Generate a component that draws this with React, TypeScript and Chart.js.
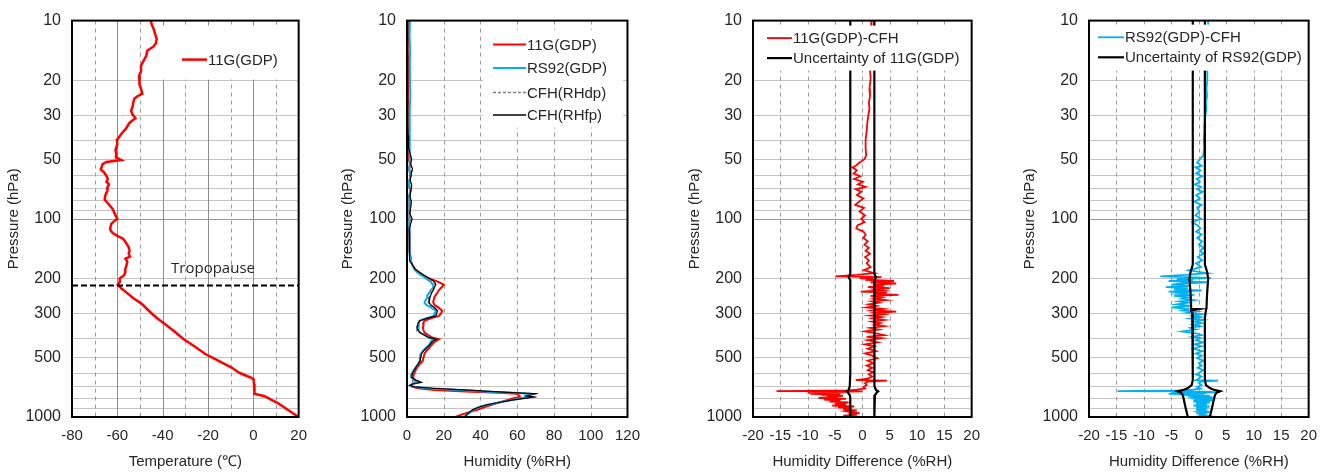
import React, { useEffect, useRef } from "react";
import { Chart, registerables } from "chart.js";
Chart.register(...registerables);

const FONT = "'Liberation Sans', Arial, Helvetica, sans-serif";
const TEXT = "#262626";

// ---------- axes ----------
const pressureTicks = [10, 20, 30, 40, 50, 60, 70, 80, 90, 100, 200, 300, 400, 500, 600, 700, 800, 900, 1000];
const pressureLabels = [10, 20, 30, 50, 100, 200, 300, 500, 1000];
const pressureGrid = [20, 30, 40, 50, 60, 70, 80, 90, 100, 200, 300, 400, 500, 600, 700, 800, 900];
const tempTicks = [-80, -60, -40, -20, 0, 20];
const tempSolidGrid = [-60, -40, -20, 0];
const tempDashedGrid = [-70, -50, -30, -10, 10];
const humidityTicks = [0, 20, 40, 60, 80, 100, 120];
const humidityDashedGrid = [20, 40, 60, 80, 100];
const diffTicks = [-20, -15, -10, -5, 0, 5, 10, 15, 20];
const diffDashedGrid = [-15, -10, -5, 0, 5, 10, 15];

// ---------- panel 1: temperature ----------
const tempPressure = [
  10, 10.5, 11, 11.5, 12, 12.4, 13, 13.5, 14, 14.2,
  15, 16, 17, 18, 19, 20, 21, 22, 23.4, 24,
  24.8, 26, 27, 28.4, 29.5, 31.1, 32, 33, 35, 37,
  40, 42, 45, 47, 49, 50.5, 51.7, 53, 56.5, 58,
  60.8, 63, 65, 67, 70, 72, 75.5, 80, 84, 89.5,
  95, 100, 103, 106, 110, 114, 118, 122, 126, 131,
  139, 145, 150, 155, 158.8, 165, 174, 180, 186, 192,
  200, 207, 215, 224, 235, 250, 270, 303, 320, 342,
  370, 405, 440, 481, 520, 563, 600, 630, 643, 660,
  682, 720, 763, 785, 820, 850, 900, 950, 1000,
];
const tempValues = [
  -45.2, -44.8, -44.0, -43.5, -43.0, -42.6, -43.0, -44.0, -46.0, -46.8,
  -47.2, -48.5, -49.6, -49.5, -50.4, -50.3, -50.1, -49.6, -49.0, -51.0,
  -52.5, -53.0, -53.2, -53.9, -53.5, -52.0, -53.5, -54.8, -56.1, -58.0,
  -60.2, -60.0, -60.8, -60.5, -60.6, -58.3, -64.8, -66.5, -67.3, -66.0,
  -64.8, -64.2, -64.8, -63.7, -64.5, -64.3, -65.2, -65.6, -64.0, -62.0,
  -61.0, -60.0, -61.5, -62.7, -63.0, -63.1, -62.0, -60.0, -57.5, -56.4,
  -55.0, -54.6, -55.0, -54.4, -56.4, -55.6, -56.1, -56.5, -56.5, -56.9,
  -59.0, -58.8, -59.8, -58.3, -56.0, -53.2, -49.0, -44.5, -42.0, -38.6,
  -34.8, -30.7, -26.0, -21.2, -15.5, -9.6, -6.0, -1.5, 0.0, 0.2,
  0.3, 0.4, 0.6, 5.0, 8.0, 10.8, 14.0, 17.0, 20.0,
];
const tropopausePressure = 217;
const tropopauseLabel = "Tropopause";

// ---------- panel 2: humidity ----------
const rhPressure = [
  10, 12, 14, 17, 20, 24, 28, 33, 38, 44,
  50, 53, 56, 60, 64, 68, 72, 77, 82, 88,
  94, 100, 106, 113, 120, 128, 137, 146, 155, 163,
  171, 180, 186, 192, 197, 202, 208, 215, 221, 229,
  236, 242, 250, 258, 265, 272, 280, 291, 300, 309,
  318, 327, 336, 345, 354, 365, 375, 386, 398, 405,
  415, 427, 437, 450, 465, 481, 500, 520, 540, 563,
  585, 608, 630, 650, 668, 680, 692, 704, 716, 730,
  745, 755, 763, 772, 782, 793, 805, 822, 845, 870,
  893, 917, 945, 970, 1000,
];
const rh11G = [
  0.5, 0.6, 0.4, 0.7, 0.5, 0.6, 0.5, 0.7, 0.6, 0.8,
  1.0, 1.8, 1.2, 2.0, 1.4, 1.0, 1.9, 1.3, 1.2, 1.6,
  1.1, 1.5, 1.3, 1.0, 1.2, 1.4, 1.1, 1.5, 1.8, 2.2,
  3.0, 4.5, 6.5, 8.6, 10.5, 13.5, 17.0, 20.0, 19.0, 17.4,
  16.5, 15.7, 14.8, 14.5, 14.3, 15.0, 17.0, 19.2, 18.5, 17.4,
  13.0, 9.5, 8.8, 9.0, 8.6, 9.0, 9.5, 11.5, 13.9, 17.4,
  15.5, 14.0, 13.0, 12.0, 10.5, 9.5, 9.0, 8.6, 7.0, 5.5,
  4.5, 3.8, 3.3, 4.2, 5.1, 3.0, 2.0, 3.0, 6.0, 15.0,
  35.0, 50.0, 59.7, 60.5, 61.0, 61.5, 58.0, 54.4, 50.0, 45.6,
  42.0, 38.6, 34.0, 30.0, 26.3,
];
const rhRS92 = [
  1.6, 1.4, 1.7, 1.5, 1.6, 1.8, 1.5, 1.6, 1.4, 1.5,
  1.2, 1.6, 1.0, 1.8, 1.3, 1.1, 1.7, 1.2, 1.5, 1.1,
  1.6, 1.3, 1.0, 1.4, 1.2, 1.5, 1.3, 1.6, 1.9, 2.1,
  2.8, 4.0, 5.5, 7.5, 9.5, 11.0, 13.0, 14.0, 14.5, 13.0,
  12.0, 11.3, 11.0, 10.0, 9.5, 10.5, 13.0, 15.7, 15.0, 14.5,
  10.0, 6.9, 6.5, 6.3, 6.0, 6.5, 7.2, 9.5, 12.0, 14.5,
  13.0, 12.5, 11.5, 10.0, 8.5, 7.5, 7.2, 7.0, 6.0, 4.6,
  3.5, 2.5, 2.2, 3.5, 6.0, 3.0, 1.6, 3.0, 12.0, 28.0,
  43.9, 58.0, 66.0, 66.5, 65.0, 66.8, 62.0, 57.0, 50.0, 43.0,
  39.0, 36.0, 34.5, 33.0, 31.6,
];
const rhCFHdp = [
  0.3, 0.2, 0.3, 0.3, 0.2, 0.3, 0.3, 0.4, 0.5, 0.8,
  2.2, 1.8, 2.7, 2.0, 1.6, 2.3, 1.9, 1.5, 2.1, 1.8,
  1.4, 2.5, 1.8, 1.2, 1.4, 1.1, 1.3, 1.2, 1.3, 1.4,
  2.8, 4.2, 6.3, 8.5, 10.4, 12.4, 14.3, 15.0, 14.4, 13.7,
  13.0, 12.5, 12.0, 11.6, 11.6, 12.6, 14.5, 16.1, 15.8, 15.3,
  10.8, 6.8, 5.9, 5.7, 5.4, 5.9, 6.8, 9.4, 11.9, 15.9,
  13.9, 12.7, 11.9, 10.4, 8.9, 7.7, 7.4, 7.1, 6.0, 4.8,
  3.6, 2.8, 2.5, 4.5, 7.8, 3.5, 1.6, 4.0, 14.0, 31.0,
  47.4, 60.0, 71.0, 68.5, 65.5, 70.5, 64.5, 57.0, 50.0, 43.0,
  39.0, 36.0, 34.0, 32.5, 31.0,
];
const rhCFHfp = [
  0.3, 0.2, 0.4, 0.3, 0.2, 0.4, 0.3, 0.5, 0.6, 0.9,
  2.5, 2.0, 3.0, 2.2, 1.8, 2.6, 2.1, 1.6, 2.4, 2.0,
  1.5, 2.8, 2.0, 1.3, 1.6, 1.2, 1.5, 1.3, 1.4, 1.5,
  3.0, 4.5, 6.8, 9.0, 11.0, 13.0, 15.0, 15.7, 15.0, 14.3,
  13.5, 13.0, 12.5, 12.0, 12.0, 13.0, 15.0, 16.6, 16.2, 15.7,
  11.0, 6.9, 6.0, 5.8, 5.5, 6.0, 6.9, 9.5, 12.0, 16.0,
  14.0, 12.8, 12.0, 10.5, 9.0, 7.8, 7.5, 7.2, 6.0, 4.8,
  3.6, 2.8, 2.5, 4.5, 7.8, 3.5, 1.6, 4.0, 14.0, 31.0,
  47.4, 60.0, 70.0, 68.0, 65.0, 69.0, 64.0, 57.0, 50.0, 43.0,
  39.0, 36.0, 34.0, 32.5, 31.0,
];

// ---------- panels 3 & 4: differences ----------
const diffPressure = [
  10, 11, 12, 13, 14, 15, 16, 17, 18, 19,
  20, 22, 24, 26, 28, 30, 33, 36, 40, 44,
  48, 50, 52, 54, 55, 57, 59, 61, 63, 65,
  67, 69, 71, 73, 76, 79, 82, 85, 88, 92,
  96, 100, 104, 108, 112, 116, 120, 125, 130, 135,
  140, 145, 150, 156, 162, 168, 175, 182, 188, 192,
  195, 197, 199, 201, 203, 206, 209, 212, 215, 218,
  221, 224, 227, 230, 233, 236, 239, 242, 245, 249,
  253, 257, 261, 265, 270, 275, 280, 285, 290, 294,
  298, 303, 308, 313, 318, 324, 330, 336, 342, 348,
  355, 362, 370, 378, 386, 394, 400, 410, 420, 430,
  440, 452, 465, 478, 490, 505, 520, 535, 550, 565,
  580, 595, 610, 625, 640, 652, 656, 662, 675, 690,
  705, 718, 728, 735, 740, 743, 746, 749, 752, 756,
  760, 765, 770, 776, 782, 788, 795, 802, 810, 818,
  826, 835, 845, 855, 865, 875, 885, 895, 905, 915,
  925, 935, 945, 955, 965, 975, 985, 995, 1000,
];
const diff11G = [
  1.7, 1.6, 1.7, 1.6, 1.6, 1.5, 1.6, 1.5, 1.4, 1.5,
  1.5, 1.3, 1.4, 1.2, 1.3, 1.1, 0.9, 0.8, 0.6, 0.6,
  0.7, 0.4, -0.5, -1.2, -1.8, -1.0, -1.6, -0.4, -1.5, 0.1,
  -0.8, 0.6, -1.2, -0.2, -1.0, 0.2, -0.6, -1.3, 0.3, -0.5,
  0.5, -0.2, 0.4, -0.9, -1.1, 0.2, 0.6, 0.2, 1.0, 0.4,
  1.2, 0.6, 1.4, 0.5, 1.2, 0.8, 1.5, 0.3, 2.2, -1.0,
  -4.9, 3.5, -0.5, 2.0, 0.5, 5.8, 1.5, 6.2, 2.0, 4.0,
  1.0, 5.0, 2.5, 3.8, -0.3, 4.5, 2.0, 6.6, 1.5, 3.5,
  2.2, 4.3, 1.8, 3.0, 1.2, 2.6, 0.8, 3.8, 2.0, 6.2,
  2.5, 4.0, 1.5, 3.5, 2.0, 4.0, 1.8, 3.3, 2.3, 4.0,
  1.5, 3.0, 0.5, 2.5, 4.0, 0.8, 3.5, 1.0, 2.8, 0.5,
  2.2, 1.0, 2.5, 0.5, 1.8, 2.7, 1.0, 2.0, 0.8, 1.8,
  1.0, 2.0, 1.2, 1.8, 1.0, -1.2, 4.5, 1.0, 0.5, 0.8,
  0.2, 0.5, -1.0, -2.5, -15.7, 0.0, -4.5, -8.0, -3.0, -10.0,
  -6.0, -9.5, -4.0, -7.5, -3.5, -6.5, -4.5, -8.0, -3.0, -7.0,
  -4.0, -6.0, -2.5, -5.0, -3.0, -5.5, -1.5, -4.5, -2.0, -3.5,
  -1.0, -3.0, -2.0, -0.5, -2.5, -1.0, -3.5, -1.5, -2.0,
];
const diffRS92 = [
  1.7, 1.7, 1.6, 1.7, 1.6, 1.6, 1.5, 1.6, 1.5, 1.5,
  1.5, 1.4, 1.5, 1.3, 1.4, 1.2, 1.1, 1.0, 0.9, 1.0,
  0.8, 0.2, -0.3, 0.5, -0.6, 0.3, -0.5, 0.6, -0.4, 0.2,
  -0.7, 0.4, -0.3, 0.7, -0.5, 0.2, -0.8, 0.5, -0.3, 0.1,
  -0.6, 0.4, -1.2, -0.2, 0.3, -0.5, 0.5, -0.3, 0.6, 0.0,
  0.9, 0.2, 0.8, -0.2, 0.6, -0.5, 0.4, -1.8, 1.5, -2.5,
  -7.0, -2.0, 2.2, -4.0, -1.0, -5.5, 1.5, -3.0, -5.0, -1.5,
  -6.0, -2.0, -4.5, 0.5, -5.5, -2.5, -3.8, -0.8, -4.5, -2.0,
  -3.0, -1.0, -3.5, -2.0, -4.0, -1.5, -5.0, -2.0, -3.0, -0.5,
  -2.0, 0.5, -1.0, 0.3, -1.5, 0.8, -0.8, 0.5, -1.0, 0.2,
  -1.5, -0.5, -3.0, -0.5, 0.5, -1.2, 0.3, -0.5, 0.8, -0.8,
  0.5, -1.0, 0.6, -0.5, 0.5, -0.3, 0.8, 0.0, 0.5, -0.2,
  0.8, 0.2, -0.5, 0.5, 0.0, -0.5, 3.5, 0.5, 0.0, 0.5,
  -0.3, 0.3, -1.0, -3.0, -14.8, -2.0, 2.5, -5.0, 3.5, -3.0,
  1.5, -5.5, 1.0, -3.0, 2.0, -2.0, 2.5, -1.5, 3.0, -1.0,
  2.5, -1.0, 2.0, -0.5, 1.5, -1.0, 2.0, -0.5, 1.5, -0.5,
  1.0, 0.0, 2.0, -0.5, 1.0, 0.5, 1.5, -0.5, 0.5,
];

const unc11GPressure = [10, 50, 100, 150, 190, 197, 204, 250, 300, 400, 500, 600, 700, 730, 742, 755, 775, 800, 900, 1000];
const unc11GUpper = [2.2, 2.2, 2.2, 2.2, 2.2, 2.5, 2.2, 2.2, 2.2, 2.2, 2.2, 2.2, 2.3, 2.5, 2.9, 2.6, 2.3, 2.2, 2.2, 2.2];
const unc11GLower = [-2.2, -2.2, -2.2, -2.2, -2.2, -2.5, -2.2, -2.2, -2.2, -2.2, -2.2, -2.2, -2.3, -2.5, -2.9, -2.6, -2.3, -2.2, -2.2, -2.2];

const uncRSLowerPressure = [10, 100, 170, 185, 200, 240, 280, 285, 286, 290, 300, 320, 400, 500, 600, 650, 690, 715, 730, 742, 755, 770, 800, 850, 900, 950, 1000];
const uncRSLower = [-1.1, -1.1, -1.1, -1.5, -1.7, -1.5, -1.4, -1.4, -0.1, -1.4, -1.2, -1.1, -1.1, -1.1, -1.1, -1.1, -1.3, -2.0, -2.8, -3.9, -3.2, -3.0, -2.8, -2.6, -2.4, -2.2, -2.0];
const uncRSUpperPressure = [10, 100, 170, 185, 200, 240, 280, 300, 320, 400, 500, 600, 650, 690, 715, 730, 742, 755, 770, 800, 850, 900, 950, 1000];
const uncRSUpper = [1.1, 1.1, 1.1, 1.5, 1.7, 1.5, 1.4, 1.2, 1.1, 1.1, 1.1, 1.1, 1.1, 1.3, 2.0, 2.8, 3.9, 3.2, 3.0, 2.8, 2.6, 2.4, 2.2, 2.0];

// ---------- helpers ----------
const xy = (xs: number[], ps: number[]) => ps.map((p, i) => ({ x: xs[i], y: p }));

const line = (label: string, data: any[], color: string, width: number, order: number, dash: number[] = []) => ({
  label,
  data,
  borderColor: color,
  backgroundColor: color,
  borderWidth: width,
  borderDash: dash,
  showLine: true,
  pointRadius: 0,
  pointHoverRadius: 0,
  tension: 0,
  fill: false,
  order,
});

type LegendSpec = { box: number[]; lineX: number[]; textX: number; rows: number[]; items: number[] };
type PanelSpec = {
  left: number;
  width: number;
  axisWidth: number;
  xMin: number;
  xMax: number;
  xTicks: number[];
  xTitle: string;
  vSolid: number[];
  vDashed: number[];
  datasets: any[];
  legend: LegendSpec;
  tropopause?: boolean;
};

function makeDecor(spec: PanelSpec) {
  return {
    id: "decor",
    beforeDatasetsDraw(chart: any) {
      const { ctx, chartArea: a } = chart;
      const xs = chart.scales.x;
      const ys = chart.scales.y;
      ctx.save();
      ctx.lineWidth = 1;
      pressureGrid.forEach((p) => {
        const py = Math.round(ys.getPixelForValue(p)) + 0.5;
        ctx.beginPath();
        ctx.setLineDash([]);
        ctx.strokeStyle = p === 100 ? "#9a9a9a" : "#c4c4c4";
        ctx.moveTo(a.left, py);
        ctx.lineTo(a.right, py);
        ctx.stroke();
      });
      spec.vSolid.forEach((v) => {
        const px = Math.round(xs.getPixelForValue(v)) + 0.5;
        ctx.beginPath();
        ctx.setLineDash([]);
        ctx.strokeStyle = "#8c8c8c";
        ctx.moveTo(px, a.top);
        ctx.lineTo(px, a.bottom);
        ctx.stroke();
      });
      spec.vDashed.forEach((v) => {
        const px = Math.round(xs.getPixelForValue(v)) + 0.5;
        ctx.beginPath();
        ctx.setLineDash([4, 4]);
        ctx.strokeStyle = "#9a9a9a";
        ctx.moveTo(px, a.top);
        ctx.lineTo(px, a.bottom);
        ctx.stroke();
      });
      ctx.restore();
    },
    afterDatasetsDraw(chart: any) {
      const { ctx, chartArea: a } = chart;
      const xs = chart.scales.x;
      const ys = chart.scales.y;
      ctx.save();
      if (spec.tropopause) {
        const py = Math.round(ys.getPixelForValue(tropopausePressure)) + 0.5;
        ctx.beginPath();
        ctx.setLineDash([6, 3]);
        ctx.strokeStyle = "#000";
        ctx.lineWidth = 2;
        ctx.moveTo(a.left, py);
        ctx.lineTo(a.right, py);
        ctx.stroke();
        ctx.setLineDash([]);
        ctx.fillStyle = TEXT;
        ctx.font = "15px 'Open Sans', 'Liberation Sans', sans-serif";
        ctx.textBaseline = "middle";
        ctx.textAlign = "left";
        ctx.fillText(tropopauseLabel, xs.getPixelForValue(-36.3), py - 17);
      }
      // legend
      const L = spec.legend;
      ctx.fillStyle = "#fff";
      ctx.fillRect(a.left + L.box[0], a.top + L.box[1], L.box[2] - L.box[0], L.box[3] - L.box[1]);
      L.items.forEach((di, k) => {
        const ds = chart.data.datasets[di];
        const y = a.top + L.rows[k];
        ctx.beginPath();
        ctx.setLineDash(ds.borderDash || []);
        ctx.strokeStyle = ds.borderColor;
        ctx.lineWidth = Math.max(ds.borderWidth, 1.5);
        ctx.moveTo(a.left + L.lineX[0], y);
        ctx.lineTo(a.left + L.lineX[1], y);
        ctx.stroke();
        ctx.setLineDash([]);
        ctx.fillStyle = TEXT;
        ctx.font = "15px " + FONT;
        ctx.textBaseline = "middle";
        ctx.textAlign = "left";
        ctx.fillText(ds.label, a.left + L.textX, y + 1);
      });
      // frame
      ctx.setLineDash([]);
      ctx.strokeStyle = "#000";
      ctx.lineWidth = 2;
      ctx.strokeRect(a.left, a.top, a.right - a.left, a.bottom - a.top);
      ctx.restore();
    },
  };
}

function makeConfig(spec: PanelSpec): any {
  return {
    type: "scatter",
    data: { datasets: spec.datasets },
    plugins: [makeDecor(spec)],
    options: {
      animation: false,
      responsive: false,
      devicePixelRatio: 1,
      layout: { padding: { left: 0, top: 16, right: 16, bottom: 0 } },
      plugins: { legend: { display: false }, tooltip: { enabled: false } },
      events: [],
      scales: {
        x: {
          type: "linear",
          position: "bottom",
          min: spec.xMin,
          max: spec.xMax,
          grid: { display: false, drawTicks: false },
          border: { display: false },
          afterBuildTicks: (s: any) => {
            s.ticks = spec.xTicks.map((v) => ({ value: v }));
          },
          afterFit: (s: any) => {
            s.height = 55;
          },
          ticks: {
            padding: 10,
            autoSkip: false,
            maxRotation: 0,
            color: TEXT,
            font: { family: FONT, size: 15 },
            callback: (v: any) => String(v),
          },
          title: {
            display: true,
            text: spec.xTitle,
            color: TEXT,
            font: { family: FONT, size: 15 },
            padding: { top: 0, bottom: 1 },
          },
        },
        y: {
          type: "logarithmic",
          position: "left",
          min: 10,
          max: 1000,
          reverse: true,
          grid: { display: false, drawTicks: false },
          border: { display: false },
          afterBuildTicks: (s: any) => {
            s.ticks = pressureTicks.map((v) => ({ value: v }));
          },
          afterFit: (s: any) => {
            s.width = spec.axisWidth;
          },
          ticks: {
            padding: 11,
            autoSkip: false,
            color: TEXT,
            font: { family: FONT, size: 16 },
            callback: (v: any) => (pressureLabels.includes(Number(v)) ? String(v) : ""),
          },
          title: {
            display: true,
            text: "Pressure (hPa)",
            color: TEXT,
            font: { family: FONT, size: 15 },
            padding: { top: 5, bottom: 0 },
          },
        },
      },
    },
  };
}

const panels: PanelSpec[] = [
  {
    left: 0,
    width: 317,
    axisWidth: 72,
    xMin: -80,
    xMax: 20,
    xTicks: tempTicks,
    xTitle: "Temperature (\u2103)",
    vSolid: tempSolidGrid,
    vDashed: tempDashedGrid,
    datasets: [line("11G(GDP)", xy(tempValues, tempPressure), "#ff0000", 2.5, 0)],
    legend: { box: [88, 5, 228, 59], lineX: [110, 135], textX: 136, rows: [39], items: [0] },
    tropopause: true,
  },
  {
    left: 334,
    width: 316,
    axisWidth: 73,
    xMin: 0,
    xMax: 120,
    xTicks: humidityTicks,
    xTitle: "Humidity (%RH)",
    vSolid: [],
    vDashed: humidityDashedGrid,
    datasets: [
      line("11G(GDP)", xy(rh11G, rhPressure), "#ff0000", 2, 3),
      line("RS92(GDP)", xy(rhRS92, rhPressure), "#00b0f0", 2, 2),
      line("CFH(RHdp)", xy(rhCFHdp, rhPressure), "#7f7f7f", 1.2, 1, [3, 2]),
      line("CFH(RHfp)", xy(rhCFHfp, rhPressure), "#000000", 1.2, 0),
    ],
    legend: { box: [76, 9, 216, 107], lineX: [86, 119], textX: 120, rows: [24, 47.5, 72, 94.5], items: [0, 1, 2, 3] },
  },
  {
    left: 681,
    width: 309,
    axisWidth: 72,
    xMin: -20,
    xMax: 20,
    xTicks: diffTicks,
    xTitle: "Humidity Difference (%RH)",
    vSolid: [],
    vDashed: diffDashedGrid,
    datasets: [
      line("11G(GDP)-CFH", xy(diff11G, diffPressure), "#ff0000", 1.8, 1),
      line("Uncertainty of 11G(GDP)", xy(unc11GUpper, unc11GPressure), "#000000", 2.2, 0),
      line("", xy(unc11GLower, unc11GPressure), "#000000", 2.2, 0),
    ],
    legend: { box: [1, 5, 219, 50], lineX: [14, 39], textX: 40, rows: [17.5, 37.5], items: [0, 1] },
  },
  {
    left: 1016,
    width: 311,
    axisWidth: 73,
    xMin: -20,
    xMax: 20,
    xTicks: diffTicks,
    xTitle: "Humidity Difference (%RH)",
    vSolid: [],
    vDashed: diffDashedGrid,
    datasets: [
      line("RS92(GDP)-CFH", xy(diffRS92, diffPressure), "#00b0f0", 1.8, 1),
      line("Uncertainty of RS92(GDP)", xy(uncRSUpper, uncRSUpperPressure), "#000000", 2.2, 0),
      line("", xy(uncRSLower, uncRSLowerPressure), "#000000", 2.2, 0),
    ],
    legend: { box: [1, 4, 220, 50], lineX: [9, 35], textX: 36, rows: [16.7, 36.7], items: [0, 1] },
  },
];

function Panel({ spec }: { spec: PanelSpec }) {
  const ref = useRef<HTMLCanvasElement | null>(null);
  useEffect(() => {
    if (!ref.current) return;
    const chart = new Chart(ref.current, makeConfig(spec));
    return () => chart.destroy();
  }, [spec]);
  return (
    <canvas
      ref={ref}
      width={spec.width}
      height={472}
      style={{ position: "absolute", left: spec.left, top: 0, width: spec.width, height: 472 }}
    />
  );
}

export default function App() {
  return (
    <div style={{ position: "fixed", left: 0, top: 0, width: 1332, height: 472, background: "#ffffff", overflow: "hidden" }}>
      {panels.map((p, i) => (
        <Panel key={i} spec={p} />
      ))}
    </div>
  );
}
